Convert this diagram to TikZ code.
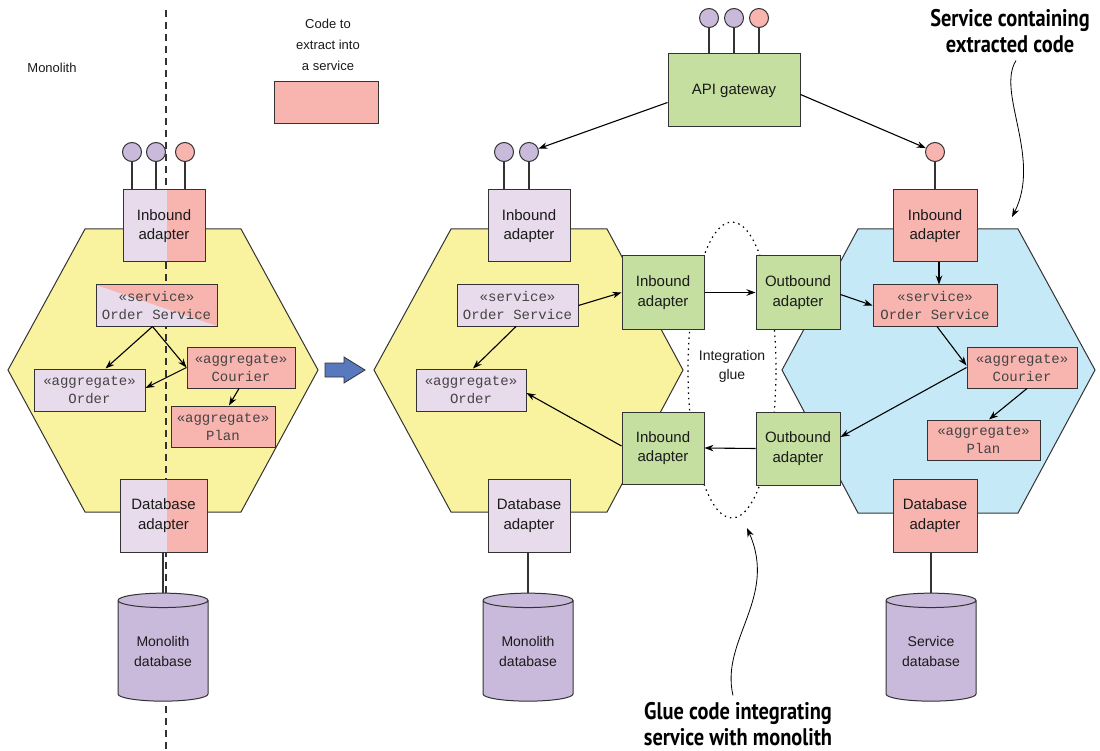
\documentclass[tikz,border=0pt]{standalone}
\usepackage{fontspec}
\setmainfont{Liberation Sans}
\newfontfamily\monofam{Liberation Mono}
\newfontfamily\notefam[FakeStretch=0.85]{PT Sans}
\usetikzlibrary{arrows.meta,calc,shapes.geometric}

\definecolor{hexyel}{HTML}{F9F3A0}
\definecolor{hexblue}{HTML}{C6E9F8}
\definecolor{lav}{HTML}{E8DCEC}
\definecolor{pinkc}{HTML}{F8B5B0}
\definecolor{greenc}{HTML}{C4DFA0}
\definecolor{dbpurple}{HTML}{C9B9DA}
\definecolor{linegray}{HTML}{333333}
\definecolor{txtdark}{HTML}{1A1A1A}
\definecolor{txtcode}{HTML}{444444}
\definecolor{bluearrow}{HTML}{5879BE}

\begin{document}
\begin{tikzpicture}[x=1pt, y=-1pt, >={Stealth[length=9pt,width=6.5pt]}, line width=1pt,
  box/.style={draw=linegray, fill=lav, inner sep=0pt, align=center, text=txtdark, font=\fontsize{15}{19.5}\selectfont},
  adapter/.style={box, minimum width=82pt, minimum height=72pt},
  code/.style={box, text=txtcode, font=\monofam\fontsize{14}{18}\selectfont},
  port/.style={circle, draw=linegray, inner sep=0pt, minimum size=19pt},
  stem/.style={draw=linegray, line width=1.2pt},
  flow/.style={->, line width=1.1pt},
  halfpink/.style={path picture={\fill[pinkc] ($(path picture bounding box.north west)!0.54!(path picture bounding box.north east)$) rectangle (path picture bounding box.south east);}},
  diagpink/.style={path picture={\fill[pinkc] (path picture bounding box.north west) -- (path picture bounding box.north east) -- (path picture bounding box.south east) -- cycle;}},
  dbcyl/.style={cylinder, shape border rotate=90, draw=linegray, fill=dbpurple, aspect=0.25, minimum width=90pt, minimum height=108pt, inner sep=0pt, align=center, text=txtdark, font=\fontsize{14}{20}\selectfont},
  hexline/.style={draw=linegray, line width=1pt},
  note/.style={align=center, text=black, font=\notefam\bfseries\fontsize{24}{26}\selectfont},
  callout/.style={->, line width=0.8pt}
]
\useasboundingbox (0,0) rectangle (1100,751);

% 1. hexagons, glue ellipse, split line
\draw[hexline, fill=hexyel] (85,229) -- (241,229) -- (318,370) -- (241,512) -- (85,512) -- (8,370) -- cycle;
\draw[hexline, fill=hexyel] (451,229) -- (607,229) -- (683,370) -- (607,512) -- (451,512) -- (374,370) -- cycle;
\draw[hexline, fill=hexblue] (858,229) -- (1018,229) -- (1095,370) -- (1018,513) -- (858,513) -- (782,370) -- cycle;
\draw[line width=1.2pt, dash pattern=on 1.5pt off 4pt] (732,370) ellipse [x radius=44pt, y radius=148pt];
\draw[linegray, line width=1.2pt, dash pattern=on 7pt off 5pt] (166,10) -- (166,751);

% 2. labels and legend
\node[text=txtdark, font=\fontsize{13}{16}\selectfont] (monolabel) at (52,68) {Monolith};
\node[align=center, text=txtdark, font=\fontsize{13}{21}\selectfont] (legendtxt) at (328,45) {Code to\\extract into\\a service};
\node[box, fill=pinkc, minimum width=104pt, minimum height=42pt] (legendbox) at (326,103) {};
\node[align=center, text=txtdark, font=\fontsize{14}{19}\selectfont] (gluetxt) at (732,366.5) {Integration\\glue};

% 3. monolith before extraction
\node[adapter, halfpink] (lin) at (164,226) {Inbound\\adapter};
\node[code, diagpink, minimum width=121pt, minimum height=41pt] (lsvc) at (156.5,305.5) {«service»\\Order Service};
\node[code, minimum width=111pt, minimum height=42pt] (lorder) at (89.5,390) {«aggregate»\\Order};
\node[code, fill=pinkc, minimum width=108pt, minimum height=41pt] (lcourier) at (241,367.5) {«aggregate»\\Courier};
\node[code, fill=pinkc, minimum width=104pt, minimum height=41pt] (lplan) at (223,426.5) {«aggregate»\\Plan};
\node[adapter, halfpink, minimum width=87pt, minimum height=73pt] (ldb) at (163.5,515.5) {Database\\adapter};
\node[dbcyl] (lstore) at (163,651) {Monolith\\database};
\node[port, fill=dbpurple] (lp1) at (132,152) {};
\node[port, fill=dbpurple] (lp2) at (156,152) {};
\node[port, fill=pinkc] (lp3) at (185,152) {};
\foreach \p in {lp1,lp2,lp3}
  \draw[stem] (\p.south) -- (\p.south |- lin.north);
\draw[stem] (lstore.north |- ldb.south) -- (lstore.north);

\draw[flow] ([xshift=-4pt]lsvc.south) -- ([xshift=16pt]lorder.north);
\draw[flow] ([xshift=-4pt]lsvc.south) -- (lcourier.west);
\draw[flow] (lcourier.west) -- ([yshift=2pt]lorder.east);
\draw[flow] ([xshift=-2pt]lcourier.south) -- ([xshift=6pt]lplan.north);

% 4. block arrow
\draw[draw=linegray, fill=bluearrow, line width=0.8pt] (325,363) -- (344,363) -- (344,357) -- (365,370) -- (344,383) -- (344,377) -- (325,377) -- cycle;

% 5. monolith after extraction
\node[adapter] (min) at (529,226) {Inbound\\adapter};
\node[code, minimum width=121pt, minimum height=41pt] (msvc) at (517.5,305.5) {«service»\\Order Service};
\node[code, minimum width=110pt, minimum height=42pt] (morder) at (471,390) {«aggregate»\\Order};
\node[adapter, minimum height=73pt] (mdb) at (529,515.5) {Database\\adapter};
\node[dbcyl] (mstore) at (528,651) {Monolith\\database};
\node[adapter, fill=greenc, minimum height=73pt] (gin1) at (663,292.5) {Inbound\\adapter};
\node[adapter, fill=greenc] (gin2) at (663,448) {Inbound\\adapter};
\node[port, fill=dbpurple] (mp1) at (504,152) {};
\node[port, fill=dbpurple] (mp2) at (529,152) {};
\foreach \p in {mp1,mp2}
  \draw[stem] (\p.south) -- (\p.south |- min.north);
\draw[stem] (mstore.north |- mdb.south) -- (mstore.north);

\draw[flow] (msvc.east) -- (gin1.west);
\draw[flow] ([xshift=-1.5pt]msvc.south) -- ([xshift=2pt]morder.north);
\draw[flow] ([yshift=2pt]gin2.west) -- ([yshift=-3pt]morder.east);

% 6. extracted service
\node[adapter, fill=greenc, minimum width=84pt, minimum height=73pt] (gout1) at (798,292.5) {Outbound\\adapter};
\node[adapter, fill=greenc, minimum width=84pt, minimum height=73pt] (gout2) at (798,448.5) {Outbound\\adapter};
\node[adapter, fill=pinkc, minimum width=84pt] (rin) at (935,226) {Inbound\\adapter};
\node[code, fill=pinkc, minimum width=124pt, minimum height=41pt] (rsvc) at (935,305.5) {«service»\\Order Service};
\node[code, fill=pinkc, minimum width=110pt, minimum height=41pt] (rcourier) at (1022,367.5) {«aggregate»\\Courier};
\node[code, fill=pinkc, minimum width=113pt, minimum height=40pt] (rplan) at (983.5,440) {«aggregate»\\Plan};
\node[adapter, fill=pinkc, minimum width=84pt, minimum height=73pt] (rdb) at (935,515.5) {Database\\adapter};
\node[dbcyl] (rstore) at (931,651) {Service\\database};
\node[port, fill=pinkc] (rp1) at (935,152) {};
\draw[stem] (rp1.south) -- (rp1.south |- rin.north);
\draw[stem] (rstore.north |- rdb.south) -- (rstore.north);

\draw[flow] (gin1.east) -- (gout1.west);
\draw[flow] (gout2.west) -- (gin2.east);
\draw[flow] ([yshift=-2pt]gout1.east) -- (rsvc.west);
\draw[flow] ([xshift=4pt]rin.south) -- ([xshift=4pt]rsvc.north);
\draw[flow] ([xshift=2pt]rsvc.south) -- ([yshift=2pt]rcourier.west);
\draw[flow] (rcourier.west) -- ([yshift=11.5pt]gout2.east);
\draw[flow] ([xshift=5pt]rcourier.south) -- ([xshift=5.5pt]rplan.north);

% 7. API gateway
\node[box, fill=greenc, minimum width=132pt, minimum height=73pt] (api) at (734,90.5) {API gateway};
\node[port, fill=dbpurple] (ap1) at (709,18) {};
\node[port, fill=dbpurple] (ap2) at (734,18) {};
\node[port, fill=pinkc] (ap3) at (759,18) {};
\foreach \p in {ap1,ap2,ap3}
  \draw[stem] (\p.south) -- (\p.south |- api.north);
\draw[flow] ([yshift=-12pt]api.west) -- (mp2);
\draw[flow] ([yshift=-4pt]api.east) -- (rp1);

% 8. callouts
\node[note] (svcnote) at (1010,31) {Service containing\\extracted code};
\node[note] (gluenote) at (738,724) {Glue code integrating\\service with monolith};
\coordinate (svctip) at (1012,217);
\coordinate (gluetip) at (747,528);
\draw[callout] ([xshift=6pt,yshift=-4pt]svcnote.south) .. controls (996,92) and (1042,158) .. (svctip);
\draw[callout] ([xshift=-5pt,yshift=3pt]gluenote.north) .. controls (720,640) and (778,598) .. (gluetip);
\end{tikzpicture}
\end{document}
